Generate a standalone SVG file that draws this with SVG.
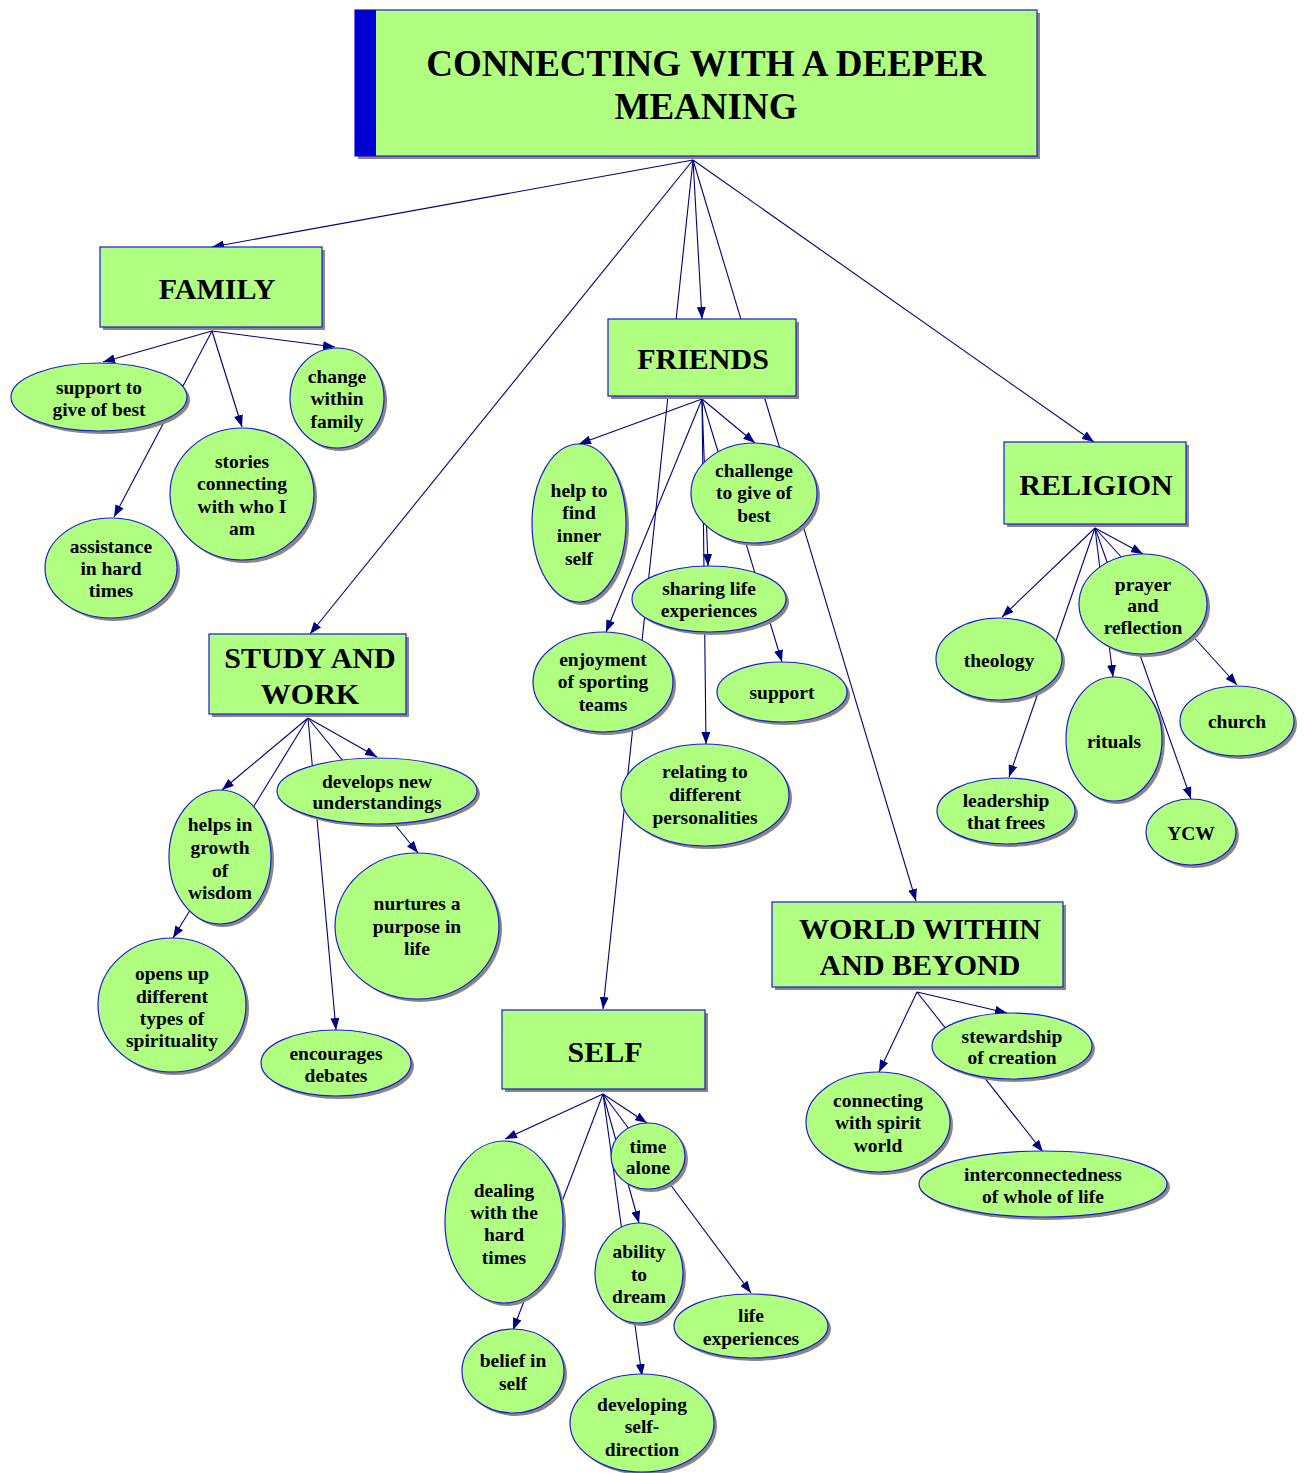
<svg xmlns="http://www.w3.org/2000/svg" width="1304" height="1473" viewBox="0 0 1304 1473">
<style>
.sh{fill:#8a8686;stroke:none}
.nd{fill:#b0ff80;stroke:#1a1ad8;stroke-width:1.2}
.t{font-family:"Liberation Serif","Times New Roman",serif;font-weight:bold;font-size:19.5px;fill:#000;text-anchor:middle}
.tm{font-family:"Liberation Serif","Times New Roman",serif;font-weight:bold;font-size:30px;fill:#000;text-anchor:middle}
.tr{font-family:"Liberation Serif","Times New Roman",serif;font-weight:bold;font-size:37px;fill:#000;text-anchor:middle}
.e{stroke:#000080;stroke-width:1.1;fill:none;marker-end:url(#ah)}
</style>
<defs>
<marker id="ah" markerUnits="userSpaceOnUse" markerWidth="13" markerHeight="9" refX="12" refY="4.5" orient="auto">
<path d="M0,0 L12,4.5 L0,9 z" fill="#000080"/>
</marker>
</defs>
<rect width="1304" height="1473" fill="#fff"/>
<g id="connectors">
<line class="e" x1="693" y1="160" x2="212" y2="247"/>
<line class="e" x1="693" y1="160" x2="310" y2="634"/>
<line class="e" x1="693" y1="160" x2="702" y2="319"/>
<line class="e" x1="693" y1="160" x2="603" y2="1009"/>
<line class="e" x1="693" y1="160" x2="916" y2="901"/>
<line class="e" x1="693" y1="160" x2="1094" y2="442"/>
<line class="e" x1="212" y1="331" x2="103" y2="362"/>
<line class="e" x1="212" y1="331" x2="114" y2="517"/>
<line class="e" x1="212" y1="331" x2="242" y2="427"/>
<line class="e" x1="212" y1="331" x2="335" y2="347"/>
<line class="e" x1="702" y1="399" x2="579" y2="444"/>
<line class="e" x1="702" y1="399" x2="606" y2="632"/>
<line class="e" x1="702" y1="399" x2="706" y2="744"/>
<line class="e" x1="702" y1="399" x2="708" y2="566"/>
<line class="e" x1="702" y1="399" x2="782" y2="662"/>
<line class="e" x1="702" y1="399" x2="755" y2="443"/>
<line class="e" x1="1095" y1="528" x2="1002" y2="617"/>
<line class="e" x1="1095" y1="528" x2="1009" y2="777"/>
<line class="e" x1="1095" y1="528" x2="1113" y2="677"/>
<line class="e" x1="1095" y1="528" x2="1191" y2="799"/>
<line class="e" x1="1095" y1="528" x2="1237" y2="685"/>
<line class="e" x1="1095" y1="528" x2="1143" y2="554"/>
<line class="e" x1="308" y1="718" x2="222" y2="790"/>
<line class="e" x1="308" y1="718" x2="173" y2="938"/>
<line class="e" x1="308" y1="718" x2="336" y2="1030"/>
<line class="e" x1="308" y1="718" x2="377" y2="757"/>
<line class="e" x1="308" y1="718" x2="418" y2="853"/>
<line class="e" x1="603" y1="1094" x2="505" y2="1139"/>
<line class="e" x1="603" y1="1094" x2="513" y2="1330"/>
<line class="e" x1="603" y1="1094" x2="639" y2="1223"/>
<line class="e" x1="603" y1="1094" x2="642" y2="1376"/>
<line class="e" x1="603" y1="1094" x2="647" y2="1123"/>
<line class="e" x1="603" y1="1094" x2="751" y2="1293"/>
<line class="e" x1="917" y1="992" x2="879" y2="1072"/>
<line class="e" x1="917" y1="992" x2="1007" y2="1013"/>
<line class="e" x1="917" y1="992" x2="1043" y2="1152"/>
</g>
<g id="root">
<rect class="sh" x="358" y="13" width="682" height="146"/>
<rect class="nd" x="355" y="10" width="682" height="146"/>
<rect x="355" y="10" width="21" height="146" fill="#0000d0"/>
<text class="tr" x="706" y="76">CONNECTING WITH A DEEPER</text>
<text class="tr" x="706" y="119">MEANING</text>
</g>
<g id="family">
<rect class="sh" x="103" y="250" width="222" height="80"/>
<rect class="nd" x="100" y="247" width="222" height="80"/>
<text class="tm" x="217" y="299">FAMILY</text>
</g>
<g id="friends">
<rect class="sh" x="611" y="322" width="188" height="77"/>
<rect class="nd" x="608" y="319" width="188" height="77"/>
<text class="tm" x="703" y="369">FRIENDS</text>
</g>
<g id="religion">
<rect class="sh" x="1007" y="445" width="182" height="82"/>
<rect class="nd" x="1004" y="442" width="182" height="82"/>
<text class="tm" x="1096" y="495">RELIGION</text>
</g>
<g id="study">
<rect class="sh" x="212" y="637" width="197" height="80"/>
<rect class="nd" x="209" y="634" width="197" height="80"/>
<text class="tm" x="310" y="668">STUDY AND</text>
<text class="tm" x="310" y="704">WORK</text>
</g>
<g id="world">
<rect class="sh" x="775" y="905" width="291" height="85"/>
<rect class="nd" x="772" y="902" width="291" height="85"/>
<text class="tm" x="920" y="939">WORLD WITHIN</text>
<text class="tm" x="920" y="975">AND BEYOND</text>
</g>
<g id="self">
<rect class="sh" x="505" y="1013" width="203" height="79"/>
<rect class="nd" x="502" y="1010" width="203" height="79"/>
<text class="tm" x="605" y="1062">SELF</text>
</g>
<g id="support-best">
<ellipse class="sh" cx="102" cy="400" rx="88" ry="34"/>
<ellipse class="nd" cx="99" cy="397" rx="88" ry="34"/>
<text class="t" x="99" y="394">support to</text>
<text class="t" x="99" y="416">give of best</text>
</g>
<g id="stories">
<ellipse class="sh" cx="245" cy="497" rx="72" ry="66"/>
<ellipse class="nd" cx="242" cy="494" rx="72" ry="66"/>
<text class="t" x="242" y="468">stories</text>
<text class="t" x="242" y="490">connecting</text>
<text class="t" x="242" y="513">with who I</text>
<text class="t" x="242" y="535">am</text>
</g>
<g id="change">
<ellipse class="sh" cx="340" cy="401" rx="47" ry="50"/>
<ellipse class="nd" cx="337" cy="398" rx="47" ry="50"/>
<text class="t" x="337" y="383">change</text>
<text class="t" x="337" y="405">within</text>
<text class="t" x="337" y="428">family</text>
</g>
<g id="assistance">
<ellipse class="sh" cx="114" cy="571" rx="66" ry="50"/>
<ellipse class="nd" cx="111" cy="568" rx="66" ry="50"/>
<text class="t" x="111" y="553">assistance</text>
<text class="t" x="111" y="575">in hard</text>
<text class="t" x="111" y="597">times</text>
</g>
<g id="help">
<ellipse class="sh" cx="582" cy="526" rx="47" ry="79"/>
<ellipse class="nd" cx="579" cy="523" rx="47" ry="79"/>
<text class="t" x="579" y="497">help to</text>
<text class="t" x="579" y="519">find</text>
<text class="t" x="579" y="542">inner</text>
<text class="t" x="579" y="565">self</text>
</g>
<g id="challenge">
<ellipse class="sh" cx="757" cy="496" rx="63" ry="50"/>
<ellipse class="nd" cx="754" cy="493" rx="63" ry="50"/>
<text class="t" x="754" y="477">challenge</text>
<text class="t" x="754" y="499">to give of</text>
<text class="t" x="754" y="522">best</text>
</g>
<g id="sharing">
<ellipse class="sh" cx="712" cy="602" rx="77" ry="33"/>
<ellipse class="nd" cx="709" cy="599" rx="77" ry="33"/>
<text class="t" x="709" y="595">sharing life</text>
<text class="t" x="709" y="617">experiences</text>
</g>
<g id="enjoyment">
<ellipse class="sh" cx="606" cy="685" rx="70" ry="50"/>
<ellipse class="nd" cx="603" cy="682" rx="70" ry="50"/>
<text class="t" x="603" y="666">enjoyment</text>
<text class="t" x="603" y="688">of sporting</text>
<text class="t" x="603" y="711">teams</text>
</g>
<g id="support">
<ellipse class="sh" cx="785" cy="695" rx="65" ry="30"/>
<ellipse class="nd" cx="782" cy="692" rx="65" ry="30"/>
<text class="t" x="782" y="699">support</text>
</g>
<g id="relating">
<ellipse class="sh" cx="708" cy="798" rx="84" ry="51"/>
<ellipse class="nd" cx="705" cy="795" rx="84" ry="51"/>
<text class="t" x="705" y="778">relating to</text>
<text class="t" x="705" y="801">different</text>
<text class="t" x="705" y="824">personalities</text>
</g>
<g id="theology">
<ellipse class="sh" cx="1002" cy="662" rx="63" ry="41"/>
<ellipse class="nd" cx="999" cy="659" rx="63" ry="41"/>
<text class="t" x="999" y="667">theology</text>
</g>
<g id="prayer">
<ellipse class="sh" cx="1146" cy="607" rx="64" ry="50"/>
<ellipse class="nd" cx="1143" cy="604" rx="64" ry="50"/>
<text class="t" x="1143" y="591">prayer</text>
<text class="t" x="1143" y="612">and</text>
<text class="t" x="1143" y="634">reflection</text>
</g>
<g id="leadership">
<ellipse class="sh" cx="1009" cy="814" rx="69" ry="33"/>
<ellipse class="nd" cx="1006" cy="811" rx="69" ry="33"/>
<text class="t" x="1006" y="807">leadership</text>
<text class="t" x="1006" y="829">that frees</text>
</g>
<g id="rituals">
<ellipse class="sh" cx="1117" cy="742" rx="48" ry="62"/>
<ellipse class="nd" cx="1114" cy="739" rx="48" ry="62"/>
<text class="t" x="1114" y="748">rituals</text>
</g>
<g id="ycw">
<ellipse class="sh" cx="1194" cy="835" rx="45" ry="33"/>
<ellipse class="nd" cx="1191" cy="832" rx="45" ry="33"/>
<text class="t" x="1191" y="840">YCW</text>
</g>
<g id="church">
<ellipse class="sh" cx="1240" cy="724" rx="57" ry="35"/>
<ellipse class="nd" cx="1237" cy="721" rx="57" ry="35"/>
<text class="t" x="1237" y="728">church</text>
</g>
<g id="helps">
<ellipse class="sh" cx="223" cy="860" rx="51" ry="67"/>
<ellipse class="nd" cx="220" cy="857" rx="51" ry="67"/>
<text class="t" x="220" y="831">helps in</text>
<text class="t" x="220" y="854">growth</text>
<text class="t" x="220" y="877">of</text>
<text class="t" x="220" y="899">wisdom</text>
</g>
<g id="develops">
<ellipse class="sh" cx="380" cy="794" rx="100" ry="33"/>
<ellipse class="nd" cx="377" cy="791" rx="100" ry="33"/>
<text class="t" x="377" y="788">develops new</text>
<text class="t" x="377" y="809">understandings</text>
</g>
<g id="nurtures">
<ellipse class="sh" cx="420" cy="929" rx="82" ry="73"/>
<ellipse class="nd" cx="417" cy="926" rx="82" ry="73"/>
<text class="t" x="417" y="910">nurtures a</text>
<text class="t" x="417" y="933">purpose in</text>
<text class="t" x="417" y="955">life</text>
</g>
<g id="encourages">
<ellipse class="sh" cx="339" cy="1066" rx="75" ry="33"/>
<ellipse class="nd" cx="336" cy="1063" rx="75" ry="33"/>
<text class="t" x="336" y="1060">encourages</text>
<text class="t" x="336" y="1082">debates</text>
</g>
<g id="opens">
<ellipse class="sh" cx="175" cy="1008" rx="74" ry="67"/>
<ellipse class="nd" cx="172" cy="1005" rx="74" ry="67"/>
<text class="t" x="172" y="980">opens up</text>
<text class="t" x="172" y="1003">different</text>
<text class="t" x="172" y="1025">types of</text>
<text class="t" x="172" y="1047">spirituality</text>
</g>
<g id="dealing">
<ellipse class="sh" cx="507" cy="1225" rx="59" ry="81"/>
<ellipse class="nd" cx="504" cy="1222" rx="59" ry="81"/>
<text class="t" x="504" y="1197">dealing</text>
<text class="t" x="504" y="1219">with the</text>
<text class="t" x="504" y="1241">hard</text>
<text class="t" x="504" y="1264">times</text>
</g>
<g id="belief">
<ellipse class="sh" cx="516" cy="1374" rx="51" ry="42"/>
<ellipse class="nd" cx="513" cy="1371" rx="51" ry="42"/>
<text class="t" x="513" y="1367">belief in</text>
<text class="t" x="513" y="1390">self</text>
</g>
<g id="time-alone">
<ellipse class="sh" cx="651" cy="1159" rx="37" ry="33"/>
<ellipse class="nd" cx="648" cy="1156" rx="37" ry="33"/>
<text class="t" x="648" y="1153">time</text>
<text class="t" x="648" y="1174">alone</text>
</g>
<g id="ability">
<ellipse class="sh" cx="642" cy="1276" rx="44" ry="50"/>
<ellipse class="nd" cx="639" cy="1273" rx="44" ry="50"/>
<text class="t" x="639" y="1258">ability</text>
<text class="t" x="639" y="1281">to</text>
<text class="t" x="639" y="1303">dream</text>
</g>
<g id="life-exp">
<ellipse class="sh" cx="754" cy="1329" rx="77" ry="32"/>
<ellipse class="nd" cx="751" cy="1326" rx="77" ry="32"/>
<text class="t" x="751" y="1322">life</text>
<text class="t" x="751" y="1345">experiences</text>
</g>
<g id="developing">
<ellipse class="sh" cx="645" cy="1426" rx="72" ry="49"/>
<ellipse class="nd" cx="642" cy="1423" rx="72" ry="49"/>
<text class="t" x="642" y="1411">developing</text>
<text class="t" x="642" y="1433">self-</text>
<text class="t" x="642" y="1456">direction</text>
</g>
<g id="connecting">
<ellipse class="sh" cx="881" cy="1125" rx="72" ry="50"/>
<ellipse class="nd" cx="878" cy="1122" rx="72" ry="50"/>
<text class="t" x="878" y="1107">connecting</text>
<text class="t" x="878" y="1129">with spirit</text>
<text class="t" x="878" y="1152">world</text>
</g>
<g id="stewardship">
<ellipse class="sh" cx="1015" cy="1049" rx="80" ry="33"/>
<ellipse class="nd" cx="1012" cy="1046" rx="80" ry="33"/>
<text class="t" x="1012" y="1043">stewardship</text>
<text class="t" x="1012" y="1064">of creation</text>
</g>
<g id="interconnectedness">
<ellipse class="sh" cx="1046" cy="1187" rx="124" ry="33"/>
<ellipse class="nd" cx="1043" cy="1184" rx="124" ry="33"/>
<text class="t" x="1043" y="1181">interconnectedness</text>
<text class="t" x="1043" y="1203">of whole of life</text>
</g>
</svg>
